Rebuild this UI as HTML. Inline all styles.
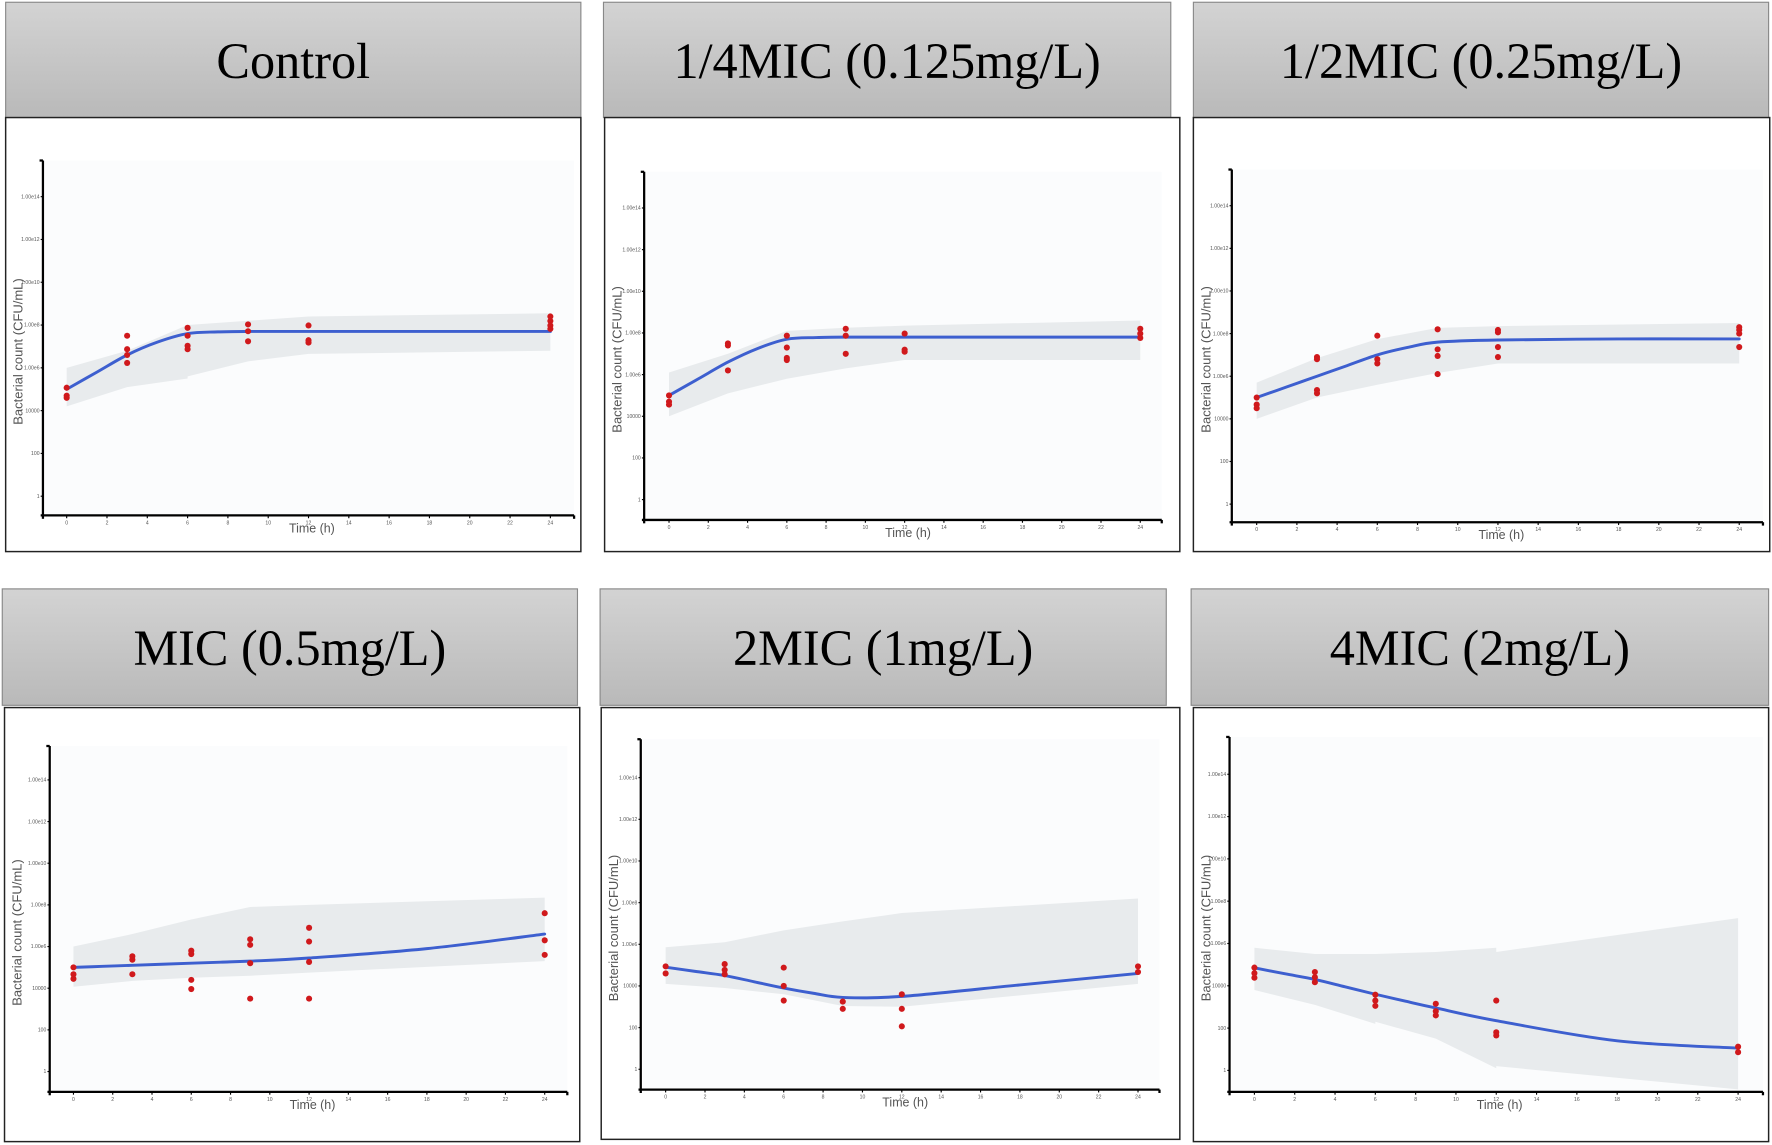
<!DOCTYPE html>
<html><head><meta charset="utf-8"><style>
html,body{margin:0;padding:0;background:#fff;}
svg{display:block;}
</style></head><body>
<svg id="fig" width="1772" height="1145" viewBox="0 0 1568 1013" preserveAspectRatio="none" xmlns="http://www.w3.org/2000/svg">
<defs>
<linearGradient id="hg" x1="0" y1="0" x2="0" y2="1"><stop offset="0" stop-color="#d3d3d3"/><stop offset="1" stop-color="#b9b9b9"/></linearGradient>
</defs>
</svg>
<script>
// ---- data (log10 CFU/mL) ----
const titles = ["Control","1/4MIC (0.125mg/L)","1/2MIC (0.25mg/L)","MIC (0.5mg/L)","2MIC (1mg/L)","4MIC (2mg/L)"];
const xTicks = [0,2,4,6,8,10,12,14,16,18,20,22,24];
const yTickLogs = [0,2,4,6,8,10,12,14];
const yTickLabels = ["1","100","10000","1.00e6","1.00e8","1.00e10","1.00e12","1.00e14"];
const obsTimes = [0,3,6,9,12,24];
const obs0 = [[5.07,4.7,4.6],[7.5,6.87,6.6,6.23],[7.87,7.5,7.03,6.87],[8.03,7.71,7.24],[7.98,7.29,7.18],[8.4,8.19,7.98,7.82]];
const obs1 = [[5.0,4.7,4.56],[7.5,7.4,6.2],[7.87,7.3,6.8,6.7],[8.2,7.87,7.0],[7.97,7.2,7.1],[8.2,7.97,7.76]];
const obs2 = [[5.0,4.67,4.5],[6.9,6.8,5.35,5.2],[7.9,6.8,6.6],[8.2,7.26,6.95,6.1],[8.17,8.06,7.37,6.9],[8.3,8.17,8.0,7.37]];
const obs3 = [[5.0,4.67,4.45],[5.53,5.37,4.67],[5.8,5.64,4.4,3.96],[6.35,6.08,5.2,3.5],[6.9,6.24,5.26,3.5],[7.6,6.3,5.6]];
const obs4 = [[4.94,4.6],[5.05,4.77,4.56],[4.88,4.0,3.3],[3.25,2.9],[3.6,2.9,2.06],[4.94,4.67]];
const obs5 = [[4.86,4.6,4.38],[4.65,4.4,4.17],[3.58,3.3,3.05],[3.15,2.8,2.6],[3.3,1.8,1.65],[1.12,0.86]];
const curveT0 = [0,1.5,3,4.5,6,7.5,9,12,18,24];
const curve0 = [5.0,5.8,6.6,7.2,7.6,7.68,7.7,7.7,7.7,7.7];
const curve1 = [5.0,5.8,6.6,7.25,7.7,7.78,7.8,7.8,7.8,7.8];
const curve2 = [5.0,5.5,6.0,6.5,7.0,7.35,7.6,7.7,7.75,7.75];
const curve3 = [5.0,5.05,5.1,5.15,5.2,5.25,5.3,5.45,5.9,6.6];
const curve4 = [4.9,4.7,4.5,4.2,3.9,3.65,3.45,3.5,4.05,4.6];
const curve5 = [4.85,4.57,4.3,3.95,3.6,3.27,2.95,2.35,1.4,1.05];
const bandT = [0,3,3.001,6,6.001,9,12,12.001,24];
const bandUp0 = [6.0,6.8,6.8,8.0,8.0,8.2,8.4,8.4,8.55];
const bandLo0 = [4.2,5.1,5.1,5.5,5.6,6.3,6.65,6.65,6.8];
const bandUp1 = [6.1,7.0,7.0,8.1,8.1,8.25,8.35,8.35,8.6];
const bandLo1 = [4.0,5.1,5.1,5.8,5.8,6.3,6.7,6.7,6.7];
const bandUp2 = [5.7,6.85,6.85,7.74,7.74,8.27,8.35,8.35,8.5];
const bandLo2 = [4.0,5.0,5.0,5.6,5.6,6.15,6.6,6.6,6.6];
const bandUp3 = [6.0,6.6,6.6,7.3,7.3,7.9,8.0,8.0,8.35];
const bandLo3 = [4.07,4.35,4.35,4.5,4.5,4.6,4.75,4.75,5.3];
const bandUp4 = [5.86,6.1,6.1,6.67,6.67,7.1,7.5,7.5,8.2];
const bandLo4 = [4.1,3.9,3.9,3.6,3.6,3.04,3.0,3.0,4.1];
const bandUp5 = [5.8,5.5,5.5,5.5,5.5,5.6,5.8,5.6,7.2];
const bandLo5 = [3.8,3.1,3.1,2.2,2.3,1.5,0.1,0.2,-0.9];

const obsAll=[obs0,obs1,obs2,obs3,obs4,obs5];
const curves=[curve0,curve1,curve2,curve3,curve4,curve5];
const ups=[bandUp0,bandUp1,bandUp2,bandUp3,bandUp4,bandUp5];
const los=[bandLo0,bandLo1,bandLo2,bandLo3,bandLo4,bandLo5];

// layout
const L=[
 {hx:5,hy:2,hw:509,hh:102,px:5,py:104,pw:509,ph:384,ax:38,top:142,bot:456,y1:439,y14:174,x0:59,x24:487,xr:508},
 {hx:534,hy:2,hw:502,hh:102,px:535,py:104,pw:509,ph:384,ax:570,top:152,bot:460,y1:442,y14:184,x0:592,x24:1009,xr:1028},
 {hx:1056,hy:2,hw:509,hh:102,px:1056,py:104,pw:510,ph:384,ax:1090,top:150,bot:462,y1:446,y14:182,x0:1112,x24:1539,xr:1560},
 {hx:2,hy:521,hw:509,hh:103,px:4,py:626,pw:509,ph:384,ax:44,top:660,bot:966,y1:948,y14:690,x0:65,x24:482,xr:502},
 {hx:531,hy:521,hw:501,hh:103,px:532,py:626,pw:512,ph:382,ax:567,top:654,bot:964,y1:946,y14:688,x0:589,x24:1007,xr:1026},
 {hx:1054,hy:521,hw:511,hh:103,px:1056,py:626,pw:509,ph:384,ax:1088,top:652,bot:966,y1:947,y14:685,x0:1110,x24:1538,xr:1560}
];
const NS="http://www.w3.org/2000/svg";
const svg=document.getElementById('fig');
function mk(tag,attrs,parent){const e=document.createElementNS(NS,tag);for(const k in attrs)e.setAttribute(k,attrs[k]);(parent||svg).appendChild(e);return e;}

function catmull(pts){let d=`M${pts[0][0]},${pts[0][1]}`;for(let i=0;i<pts.length-1;i++){const p0=pts[Math.max(0,i-1)],p1=pts[i],p2=pts[i+1],p3=pts[Math.min(pts.length-1,i+2)];
 const c1x=p1[0]+(p2[0]-p0[0])/6,c1y=p1[1]+(p2[1]-p0[1])/6,c2x=p2[0]-(p3[0]-p1[0])/6,c2y=p2[1]-(p3[1]-p1[1])/6;
 d+=` C${c1x},${c1y} ${c2x},${c2y} ${p2[0]},${p2[1]}`;}return d;}

L.forEach((g,i)=>{
 const grp=mk('g',{});
 
 
 const hdr=mk('rect',{x:g.hx,y:g.hy,width:g.hw,height:g.hh,fill:'url(#hg)',stroke:'#888','stroke-width':1},grp);
 
 
 const tt=mk('text',{x:g.hx+g.hw/2,y:g.hy+g.hh/2+16,'text-anchor':'middle','font-family':'"Liberation Serif",serif','font-size':44.5,fill:'#000'},grp);
 tt.textContent=titles[i];
 
 
 const box=mk('rect',{x:g.px,y:g.py,width:g.pw,height:g.ph,fill:'#fff',stroke:'#222','stroke-width':1.3},grp);
 
 
 const bg=mk('rect',{x:g.ax+2,y:g.top,width:g.xr-g.ax-2,height:g.bot-g.top,fill:'#fbfcfd'},grp);
 
 
 const X=t=>g.x0+(g.x24-g.x0)*t/24;
 const Y=v=>{const y=g.y1-(g.y1-g.y14)*v/14;return Math.min(y,g.bot-1);};
 let bd='';bandT.forEach((t,k)=>{bd+=(k?'L':'M')+X(t)+','+Y(ups[i][k]);});
 for(let k=bandT.length-1;k>=0;k--)bd+='L'+X(bandT[k])+','+Y(los[i][k]);
 const band=mk('path',{d:bd+'Z',fill:'#e8ebed'},grp);
 
 
 const ya=mk('line',{x1:g.ax,y1:g.top,x2:g.ax,y2:g.bot,stroke:'#000','stroke-width':2},grp);
 
 
 const xa=mk('line',{x1:g.ax-2,y1:g.bot,x2:g.xr,y2:g.bot,stroke:'#000','stroke-width':2},grp);
 
 
 mk('line',{x1:g.ax-3,y1:g.top,x2:g.ax,y2:g.top,stroke:'#000','stroke-width':2},grp);
 mk('line',{x1:g.xr,y1:g.bot,x2:g.xr,y2:g.bot+3,stroke:'#000','stroke-width':2},grp);
 mk('line',{x1:g.ax,y1:g.bot,x2:g.ax,y2:g.bot+3,stroke:'#000','stroke-width':2},grp);
 yTickLogs.forEach((v,k)=>{const y=Y(v);
  mk('line',{x1:g.ax-2,y1:y,x2:g.ax,y2:y,stroke:'#000','stroke-width':1},grp);
  const t=mk('text',{x:g.ax-3,y:y+1.5,'text-anchor':'end','font-family':'"Liberation Sans",sans-serif','font-size':4.5,fill:'#555'},grp);
  t.textContent=yTickLabels[k];
  
  });
 xTicks.forEach(v=>{const x=X(v);
  mk('line',{x1:x,y1:g.bot,x2:x,y2:g.bot+2.5,stroke:'#000','stroke-width':1},grp);
  const t=mk('text',{x:x,y:g.bot+8,'text-anchor':'middle','font-family':'"Liberation Sans",sans-serif','font-size':4.5,fill:'#555'},grp);
  t.textContent=v;
  
  });
 const xt=mk('text',{x:(g.x0+g.x24)/2+3,y:g.bot+15,'text-anchor':'middle','font-family':'"Liberation Sans",sans-serif','font-size':11,fill:'#555'},grp);
 xt.textContent='Time (h)';
 
 
 const yx=g.px+15, yy=(g.top+g.bot)/2+12;
 const yt=mk('text',{x:yx,y:yy,'text-anchor':'middle','font-family':'"Liberation Sans",sans-serif','font-size':11.5,fill:'#555',transform:`rotate(-90 ${yx} ${yy})`},grp);
 yt.textContent='Bacterial count (CFU/mL)';
 
 
 const pts=curveT0.map((t,k)=>[X(t),Y(curves[i][k])]);
 const cv=mk('path',{d:catmull(pts),fill:'none',stroke:'#3d5fcf','stroke-width':2.6,'stroke-linecap':'round'},grp);
 
 
 obsAll[i].forEach((arr,k)=>arr.forEach(v=>{
  const c=mk('circle',{cx:X(obsTimes[k]),cy:Y(v),r:2.7,fill:'#d0191c'},grp);
  
  
 }));
});
</script>
</body></html>
